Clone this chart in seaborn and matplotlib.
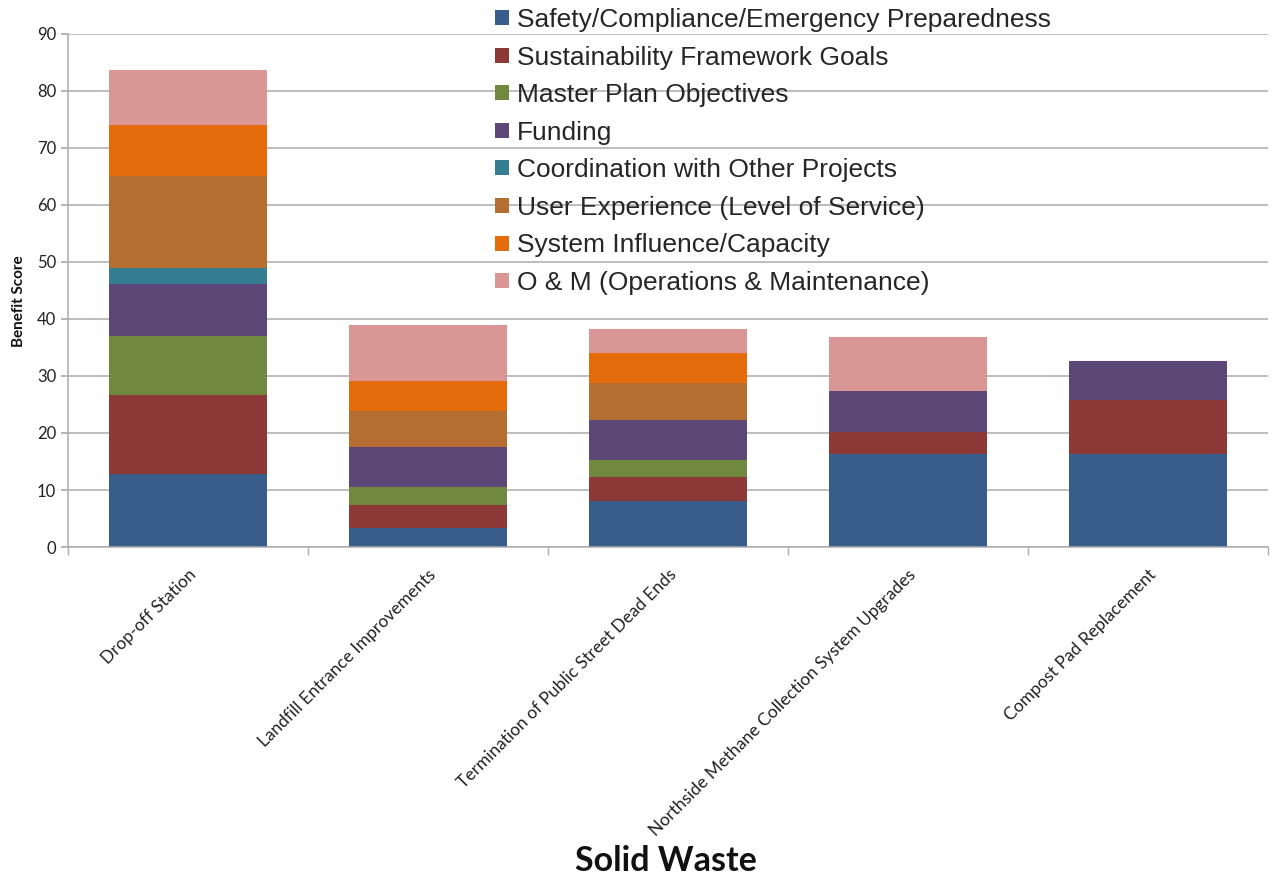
import matplotlib
matplotlib.use("Agg")
import matplotlib.pyplot as plt
import matplotlib.patches as mpatches
import numpy as np
import pandas as pd
import seaborn as sns

projects = [
    "Drop-off Station",
    "Landfill Entrance Improvements",
    "Termination of Public Street Dead Ends",
    "Northside Methane Collection System Upgrades",
    "Compost Pad Replacement",
]

criteria = [
    "Safety/Compliance/Emergency Preparedness",
    "Sustainability Framework Goals",
    "Master Plan Objectives",
    "Funding",
    "Coordination with Other Projects",
    "User Experience (Level of Service)",
    "System Influence/Capacity",
    "O & M (Operations & Maintenance)",
]

safety = [12.8, 3.3, 8.1, 16.3, 16.3]
sustainability = [13.8, 4.1, 4.2, 3.9, 9.5]
master_plan = [10.4, 3.1, 3.0, 0.0, 0.0]
funding = [9.1, 7.0, 7.0, 7.1, 6.9]
coordination = [2.8, 0.0, 0.0, 0.0, 0.0]
user_experience = [16.2, 6.4, 6.4, 0.0, 0.0]
system_influence = [8.9, 5.2, 5.4, 0.0, 0.0]
o_and_m = [9.6, 9.8, 4.1, 9.5, 0.0]

colors = ["#385D8A", "#8C3836", "#71893F", "#5C4776",
          "#357D91", "#B66D31", "#E46C0A", "#D99694"]

series = [safety, sustainability, master_plan, funding,
          coordination, user_experience, system_influence, o_and_m]

df = pd.DataFrame({name: vals for name, vals in zip(criteria, series)}, index=projects)
cum = df.cumsum(axis=1)

sns.set_theme(style="white")
plt.rcParams["font.family"] = ["Lato", "DejaVu Sans"]

fig = plt.figure(figsize=(12.76, 8.8), dpi=100)
ax = fig.add_axes([0.0533, 0.3784, 0.9404, 0.583])

# stacked bars: draw the running totals from the top layer down
for name, color in reversed(list(zip(criteria, colors))):
    sns.barplot(x=list(projects), y=cum[name].values, color=color,
                saturation=1, width=0.66, ax=ax, zorder=2,
                linewidth=0, edgecolor="none")

ax.set_ylim(0, 90)
ax.set_xlim(-0.5, len(projects) - 0.5)
ax.set_yticks(np.arange(0, 91, 10))
ax.yaxis.grid(True, color="#ABABAB", linewidth=1.1, zorder=0)
ax.set_axisbelow(True)

for s in ["top", "right"]:
    ax.spines[s].set_visible(False)
for s in ["left", "bottom"]:
    ax.spines[s].set_color("#ABABAB")
    ax.spines[s].set_linewidth(1.1)

ax.tick_params(axis="y", which="major", direction="out", length=5,
               color="#ABABAB", labelsize=12, labelcolor="#222222", left=True)
ax.set_xticks(range(len(projects)))
ax.set_xticklabels(projects, rotation=45, ha="right", rotation_mode="anchor",
                   fontsize=12.5, color="#222222")
ax.tick_params(axis="x", which="major", length=0, pad=14)
ax.set_xticks(np.arange(-0.5, len(projects), 1.0), minor=True)
ax.tick_params(axis="x", which="minor", direction="out", length=6,
               color="#ABABAB", bottom=True)

ax.set_xlabel("")
ax.set_ylabel("Benefit Score", fontsize=11, fontweight="bold", color="#111111")
ax.yaxis.set_label_coords(-0.035, 0.48)

handles = [mpatches.Patch(facecolor=c, edgecolor="none", label=n)
           for n, c in zip(criteria, colors)]
fig.legend(handles=handles, loc="upper left", bbox_to_anchor=(0.380, 1.003),
           frameon=False, handlelength=0.5, handleheight=0.5,
           handletextpad=0.3, labelspacing=0.515, borderaxespad=0,
           prop={"family": ["Liberation Sans", "DejaVu Sans"], "size": 19})

fig.text(0.522, 0.003, "Solid Waste", ha="center", va="bottom",
         fontsize=24.5, fontweight="bold", color="#111111")

fig.savefig("out.png", dpi=100, facecolor="white")
